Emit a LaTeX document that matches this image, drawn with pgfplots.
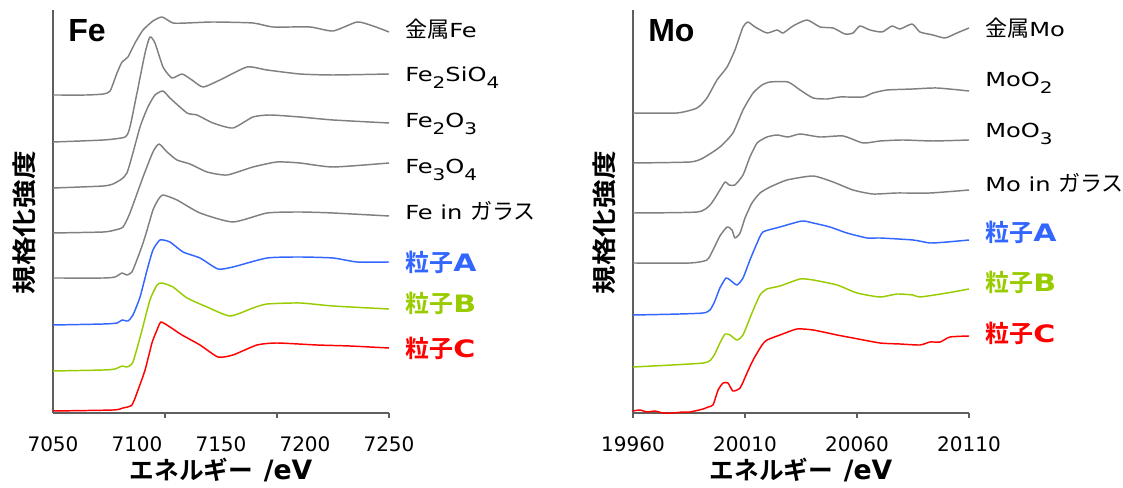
\documentclass[border=0pt]{standalone}
\usepackage{fontspec}
\usepackage{pgfplots}
\pgfplotsset{compat=1.18}
\setmainfont{DejaVu Sans}
\newfontfamily\lab{DejaVu Sans}[FakeStretch=1.25]
\newfontfamily\jp{Noto Sans CJK JP}[BoldFont={* Bold}]
\newfontfamily\ttl{Liberation Sans}
\definecolor{gr}{RGB}{128,128,128}
\definecolor{bl}{RGB}{51,102,255}
\definecolor{gn}{RGB}{153,204,0}
\definecolor{rd}{RGB}{255,0,0}
\definecolor{axc}{RGB}{95,95,95}
\newcommand\rl[1]{{\fontsize{14.5}{17}\selectfont\lab #1}}
\newcommand\J[1]{{\fontsize{16.5}{18}\selectfont\jp #1}}
\newcommand\sub[1]{\raisebox{-5pt}{\fontsize{12}{12}\selectfont #1}}
\newcommand\pl[2]{{\fontsize{18}{20}\selectfont\bfseries\color{#1}{\jp 粒子}{\lab #2}}}
\newcommand\xl{{\bfseries{\fontsize{18.5}{20}\selectfont\jp エネルギー}\hspace{8pt}{\fontsize{20}{20}\selectfont\rmfamily /eV}}}
\newcommand\yl{\scalebox{1}[0.85]{\fontsize{21.5}{22}\selectfont\jp\bfseries 規格化強度}}
\pgfplotsset{
  myax/.style={
    scale only axis, width=252pt, height=302.25pt,
    ymin=0, ymax=403, ytick=\empty,
    axis x line*=bottom, axis y line*=left,
    axis line style={axc, line width=0.9pt, -},
    tick style={axc, line width=0.9pt},
    tick align=outside, major tick length=4pt,
    xticklabel style={font=\fontsize{15}{15}\selectfont, text=black, anchor=base, yshift=-25pt},
    clip=false,
    every axis plot/.append style={line width=1.1pt, no marks, smooth, tension=0.35, line join=round},
  }
}
\begin{document}
\begin{tikzpicture}
\path[use as bounding box] (0pt,0pt) rectangle (842.25pt,366pt);
% ---------------- Fe ----------------
\begin{axis}[myax, at={(39.75pt,56.25pt)}, anchor=south west,
  xmin=7050, xmax=7250,
  xtick={7116.67,7183.33,7250}, xticklabels={,,},
  extra x ticks={7050,7100,7150,7200,7250},
  extra x tick labels={7050,7100,7150,7200,7250},
  extra x tick style={tick style={draw=none}}]
\addplot[gr] coordinates {(7050,318)(7070,318)(7080,319)(7084,322)(7088.1,340)(7091.1,351)(7094.6,356)(7098.8,370)(7103.6,383)(7109.5,392)(7114.9,396)(7121.4,390)(7129.8,390)(7145.2,391)(7169,390)(7181,386)(7203,386)(7216.7,382)(7231,391)(7240.5,387)(7250,381)};
\addplot[gr] coordinates {(7050,271)(7080,273)(7092.9,276)(7095.8,286)(7100,320)(7104.8,360)(7107.7,376)(7110.7,370)(7115.5,346)(7120.8,335)(7126.8,339)(7132.7,333)(7139.3,326)(7149.4,333)(7165.5,346)(7177.4,343)(7197,339)(7216.7,338)(7250,339)};
\addplot[gr] coordinates {(7050,225)(7080,227)(7086.9,230)(7094,240)(7101.8,286)(7106.5,306)(7110.7,318)(7115.5,322)(7119.6,315)(7129.8,300)(7135.7,298)(7145.2,290)(7157.1,285)(7169,296)(7179.2,298)(7197,296)(7216.7,293)(7250,290)};
\addplot[gr] coordinates {(7050,180)(7080,181)(7086.9,183)(7091.7,186)(7095.8,200)(7103.6,236)(7109.5,261)(7113.1,269)(7117.9,261)(7123.8,253)(7131.5,249)(7141.7,241)(7153.6,238)(7169,246)(7183.3,251)(7197,250)(7216.7,246)(7250,250)};
\addplot[gr] coordinates {(7050,135)(7080,135)(7086.9,136)(7091.1,140)(7094,138)(7097,141)(7100.6,156)(7103.6,170)(7106,183)(7109.5,203)(7112.5,213)(7115.5,218)(7123.8,213)(7137.5,200)(7157.1,191)(7177.4,200)(7197,201)(7216.7,200)(7250,197)};
\addplot[bl] coordinates {(7050,88)(7080,89)(7088.1,90)(7091.1,93)(7094.6,92)(7097.6,98)(7101.8,116)(7106,143)(7109.5,163)(7113.7,173)(7119.6,171)(7127.4,161)(7137.5,155)(7148.2,144)(7157.1,146)(7177.4,155)(7197,156)(7216.7,155)(7231,151)(7250,151)};
\addplot[gn] coordinates {(7050,42)(7080,43)(7086.9,44)(7091.1,47)(7094,46)(7097.6,51)(7103,83)(7107.7,113)(7111.9,128)(7114.9,130)(7121.4,126)(7129.8,115)(7141.7,106)(7155.4,97)(7169,105)(7177.4,109)(7197,110)(7216.7,107)(7250,104)};
\addplot[rd] coordinates {(7050,2)(7085.7,3)(7091.7,5)(7097,8)(7100.6,23)(7104.8,43)(7108.9,70)(7111.9,83)(7114.3,91)(7119.6,86)(7126.8,78)(7137.5,68)(7148.2,56)(7157.1,58)(7171.4,68)(7183.3,70)(7207.1,68)(7226.8,67)(7250,65)};
\end{axis}
% ---------------- Mo ----------------
\begin{axis}[myax, at={(474.75pt,56.25pt)}, anchor=south west,
  xmin=19960, xmax=20110,
  xtick={19960,20010,20060,20110}, xticklabels={19960,20010,20060,20110}]
\addplot[gr] coordinates {(19960,300)(19979.6,300)(19988.6,305)(19993,315)(19997.5,333)(20002,346)(20005.5,363)(20009.1,386)(20011.3,391)(20014.5,386)(20019.8,380)(20024.3,383)(20027,380)(20031.4,387)(20037.7,393)(20043.5,386)(20049.3,385)(20054.6,379)(20058.2,380)(20061.3,387)(20065.8,383)(20071.2,381)(20075.6,387)(20079.2,384)(20084.6,389)(20088.1,381)(20093.9,378)(20099.3,375)(20104.6,380)(20110,385)};
\addplot[gr] coordinates {(19960,250)(19985.4,251)(19991.3,255)(19998.8,266)(20004.6,280)(20009.1,303)(20013.6,320)(20017.6,328)(20021.2,331)(20029.2,331)(20034.6,323)(20040.4,315)(20046.6,314)(20052.4,316)(20062.7,316)(20067.1,320)(20073.4,323)(20085,324)(20095.7,325)(20110,322)};
\addplot[gr] coordinates {(19960,200)(19988.6,201)(19994.4,208)(19998.8,223)(20001.1,231)(20002.9,228)(20005.5,228)(20009.1,238)(20012.2,256)(20015.4,270)(20019.8,276)(20024.3,278)(20029.2,276)(20034.6,279)(20043.5,276)(20053.8,277)(20062.7,270)(20070.3,272)(20080.5,273)(20093.9,272)(20110,273)};
\addplot[gr] coordinates {(19960,150)(19985.4,150)(19993,153)(19995.7,163)(19998.8,177)(20002,186)(20004.2,183)(20005.5,175)(20007.8,180)(20010,195)(20013.1,210)(20016.7,220)(20021.2,226)(20028.8,233)(20040.4,237)(20049.3,231)(20058.2,223)(20067.1,219)(20077.9,220)(20092.6,220)(20110,223)};
\addplot[bl] coordinates {(19960,98)(19991.3,100)(19995.7,108)(19998.8,125)(20001.5,135)(20003.3,133)(20006.4,128)(20009.1,135)(20012.2,153)(20015.4,170)(20018,181)(20025.6,186)(20035.4,192)(20040.4,190)(20047.9,186)(20055.5,180)(20064.5,175)(20070.3,175)(20085,173)(20092.6,170)(20100.2,171)(20110,173)};
\addplot[gn] coordinates {(19960,46)(19991.3,50)(19995.7,56)(19998.8,70)(20001.1,79)(20003.3,78)(20006.4,73)(20009.1,78)(20013.1,100)(20016.7,118)(20019.8,124)(20025.6,127)(20034.6,134)(20040.4,133)(20051.1,128)(20060,120)(20070.3,116)(20077.9,119)(20085,118)(20088.1,116)(20100.2,120)(20110,124)};
\addplot[rd] coordinates {(19960,2)(19963.1,3)(19966.3,1)(19969.8,2)(19973.4,0)(19977.9,0)(19982.3,1)(19985.4,1)(19991.3,4)(19993.5,6)(19995.7,8)(19998,23)(20000.2,30)(20002.4,30)(20004.6,22)(20007.8,25)(20010.9,40)(20013.6,53)(20017.6,68)(20019.8,73)(20025.6,78)(20033.2,84)(20040.4,83)(20051.1,78)(20058.2,75)(20070.3,70)(20079.2,69)(20088.1,68)(20092.6,71)(20097.1,71)(20101.5,76)(20110,77)};
\end{axis}
% ---------------- texts ----------------
\node[anchor=base west, inner sep=0] at (51pt,334.5pt) {\fontsize{24}{24}\selectfont\ttl\bfseries Fe};
\node[anchor=base west, inner sep=0] at (486pt,334.5pt) {\fontsize{24}{24}\selectfont\ttl\bfseries Mo};
\node[inner sep=0, anchor=base] at (165.75pt,6pt) {\xl};
\node[inner sep=0, anchor=base] at (600.75pt,6pt) {\xl};
\node[inner sep=0, rotate=90] at (18pt,198.75pt) {\yl};
\node[inner sep=0, rotate=90] at (453pt,198.75pt) {\yl};
% Fe labels
\node[anchor=base west, inner sep=0] at (303.75pt,337.5pt) {\rl{\J{金属}Fe}};
\node[anchor=base west, inner sep=0] at (303.75pt,304.5pt) {\rl{Fe\sub{2}SiO\sub{4}}};
\node[anchor=base west, inner sep=0] at (303.75pt,270pt) {\rl{Fe\sub{2}O\sub{3}}};
\node[anchor=base west, inner sep=0] at (303.75pt,235.5pt) {\rl{Fe\sub{3}O\sub{4}}};
\node[anchor=base west, inner sep=0] at (303.75pt,201pt) {\rl{Fe in \J{ガラス}}};
\node[anchor=base west, inner sep=0] at (303.75pt,162pt) {\pl{bl}{A}};
\node[anchor=base west, inner sep=0] at (303.75pt,131.25pt) {\pl{gn}{B}};
\node[anchor=base west, inner sep=0] at (303.75pt,97.5pt) {\pl{rd}{C}};
% Mo labels
\node[anchor=base west, inner sep=0] at (738.75pt,338.25pt) {\rl{\J{金属}Mo}};
\node[anchor=base west, inner sep=0] at (738.75pt,300.75pt) {\rl{MoO\sub{2}}};
\node[anchor=base west, inner sep=0] at (738.75pt,262.5pt) {\rl{MoO\sub{3}}};
\node[anchor=base west, inner sep=0] at (738.75pt,222pt) {\rl{Mo in \J{ガラス}}};
\node[anchor=base west, inner sep=0] at (738.75pt,184.5pt) {\pl{bl}{A}};
\node[anchor=base west, inner sep=0] at (738.75pt,147pt) {\pl{gn}{B}};
\node[anchor=base west, inner sep=0] at (738.75pt,108.75pt) {\pl{rd}{C}};
\end{tikzpicture}
\end{document}
